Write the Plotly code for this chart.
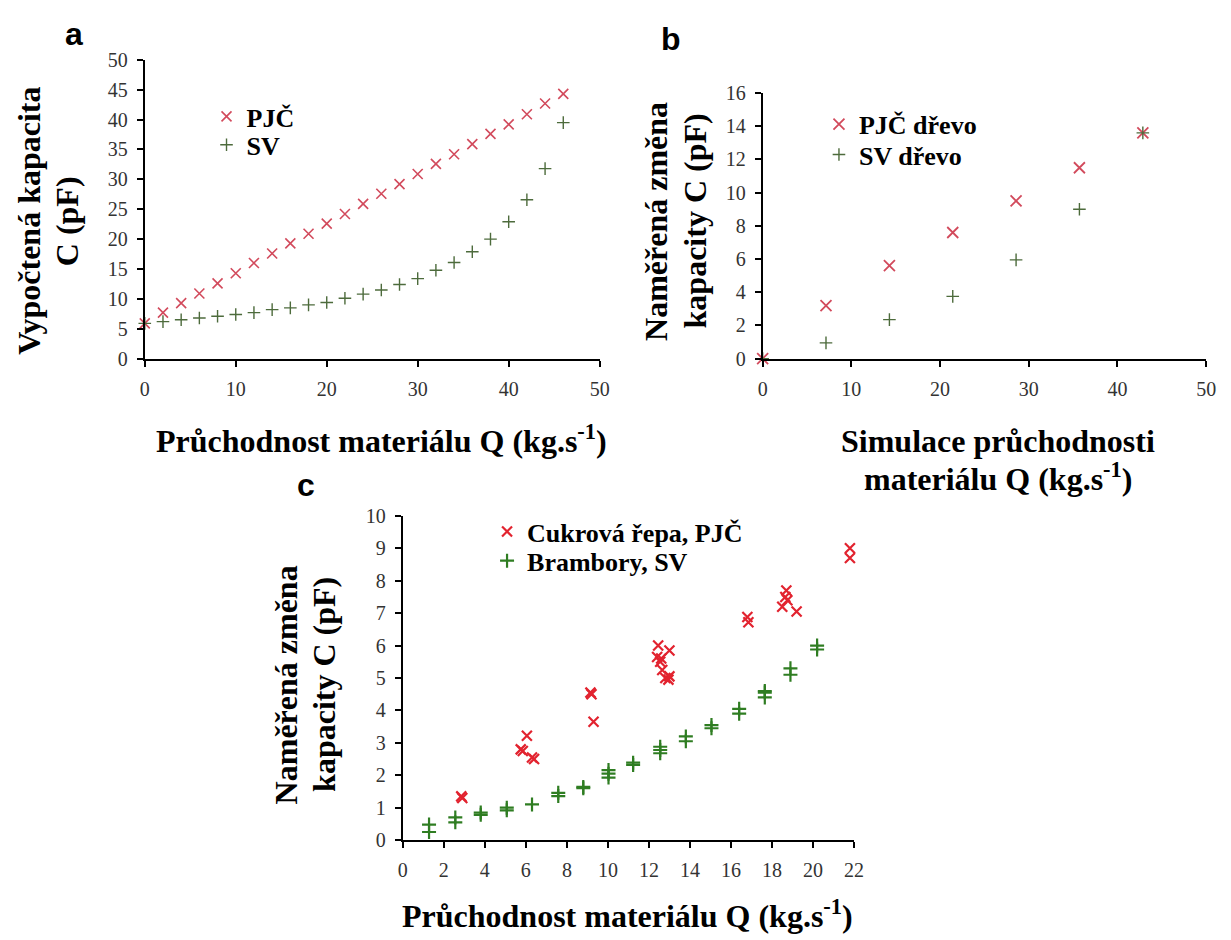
import plotly.graph_objects as go

# ---------------- data ----------------
# panel a
a_q = [0, 2, 4, 6, 8, 10, 12, 14, 16, 18, 20, 22, 24, 26, 28, 30, 32, 34, 36, 38, 40, 42, 44, 46]
a_pjc = [5.9, 7.7, 9.3, 10.9, 12.6, 14.3, 16.0, 17.6, 19.3, 20.9, 22.6, 24.2, 25.9, 27.6,
         29.2, 30.9, 32.6, 34.2, 35.9, 37.6, 39.2, 40.9, 42.7, 44.3]
a_sv = [5.9, 6.2, 6.5, 6.8, 7.1, 7.4, 7.7, 8.2, 8.5, 9.0, 9.4, 10.1, 10.8, 11.5,
        12.4, 13.4, 14.8, 16.1, 17.9, 20.0, 22.9, 26.6, 31.8, 39.5]

# panel b
b_q = [0, 7.14, 14.29, 21.43, 28.57, 35.71, 42.86]
b_pjc = [0.0, 3.2, 5.6, 7.6, 9.5, 11.5, 13.6]
b_sv = [0.0, 0.95, 2.35, 3.75, 5.95, 9.0, 13.6]

# panel c
c_pjc_q = [2.85, 2.9, 5.75, 5.85, 6.05, 6.3, 6.4, 9.15, 9.2, 9.3,
           12.45, 12.4, 12.6, 12.55, 13.0, 12.65, 12.8, 12.95, 13.0,
           16.8, 16.85, 18.7, 18.65, 18.5, 18.75, 19.2, 21.8, 21.8]
c_pjc_c = [1.35, 1.3, 2.8, 2.75, 3.22, 2.55, 2.5, 4.55, 4.5, 3.65,
           6.0, 5.65, 5.6, 5.5, 5.85, 5.25, 5.0, 4.95, 5.05,
           6.88, 6.72, 7.7, 7.5, 7.2, 7.4, 7.05, 9.0, 8.7]
c_sv_q = [1.28, 1.28, 2.56, 2.56, 3.8, 3.8, 5.07, 5.07, 6.3, 7.58, 7.58, 8.8, 8.8,
          10.03, 10.03, 10.03, 11.23, 11.23, 12.55, 12.55, 12.55, 13.8, 13.8,
          15.05, 15.05, 16.4, 16.4, 17.65, 17.65, 17.65, 18.9, 18.9, 20.2, 20.2]
c_sv_c = [0.25, 0.48, 0.55, 0.7, 0.78, 0.85, 0.92, 1.0, 1.1, 1.36, 1.46, 1.6, 1.64,
          1.93, 2.05, 2.16, 2.32, 2.39, 2.88, 2.78, 2.68, 3.2, 3.05,
          3.55, 3.45, 4.05, 3.9, 4.6, 4.55, 4.4, 5.3, 5.1, 6.0, 5.88]

# ---------------- styling ----------------
W, H = 1231, 940
SERIF = "Liberation Serif"
SANS = "Liberation Sans"
RED_A = "#d24a5c"
GRN_A = "#4d6b3c"
RED_C = "#e2232f"
GRN_C = "#2f7d22"


def px_x(p):
    return p / W


def px_y(p):
    return 1 - p / H


fig = go.Figure()

def add(x, y, sym, color, size, lw, name, xa, ya, legend):
    fig.add_trace(go.Scatter(
        x=x, y=y, mode="markers", name=name, xaxis=xa, yaxis=ya, legend=legend,
        cliponaxis=False,
        marker=dict(symbol=sym, size=size, color=color, line=dict(color=color, width=lw)),
    ))

add(a_q, a_pjc, "x-thin-open", RED_A, 10, 1.6, "PJČ", "x", "y", "legend")
add(a_q, a_sv, "cross-thin-open", GRN_A, 9, 1.4, "SV", "x", "y", "legend2")
add(b_q, b_pjc, "x-thin-open", RED_A, 11, 1.8, "PJČ dřevo", "x2", "y2", "legend3")
add(b_q, b_sv, "cross-thin-open", GRN_A, 9, 1.4, "SV dřevo", "x2", "y2", "legend4")
add(c_pjc_q, c_pjc_c, "x-thin-open", RED_C, 10, 2.2, "Cukrová řepa, PJČ", "x3", "y3", "legend5")
add(c_sv_q, c_sv_c, "cross-thin-open", GRN_C, 10, 2.2, "Brambory, SV", "x3", "y3", "legend6")

axis_common = dict(
    showline=True, linecolor="black", linewidth=2, showgrid=False, zeroline=False,
    ticks="outside", ticklen=6, tickwidth=2, tickcolor="black",
    tickfont=dict(family=SERIF, size=20, color="#333333"),
    ticklabelstandoff=5,
    mirror=False,
)

fig.update_layout(
    width=W, height=H, margin=dict(l=0, r=0, t=0, b=0),
    paper_bgcolor="white", plot_bgcolor="white",
    font=dict(family=SERIF),
    xaxis=dict(domain=[px_x(141.5), px_x(602)], range=[0, 50], dtick=10, anchor="y", **axis_common),
    yaxis=dict(domain=[px_y(356), px_y(50)], range=[0, 50], dtick=5, anchor="x", **axis_common),
    xaxis2=dict(domain=[px_x(767), px_x(1216)], range=[0, 50], dtick=10, anchor="y2", **axis_common),
    yaxis2=dict(domain=[px_y(356), px_y(84)], range=[0, 16], dtick=2, anchor="x2", **axis_common),
    xaxis3=dict(domain=[px_x(402.7), px_x(859.5)], range=[0, 22], dtick=2, anchor="y3", **axis_common),
    yaxis3=dict(domain=[px_y(849), px_y(517)], range=[0, 10], dtick=1, anchor="x3", **axis_common),
    showlegend=True,
)

leg_common = dict(
    bgcolor="rgba(0,0,0,0)", borderwidth=0, xanchor="left", yanchor="middle",
    font=dict(family=SERIF, size=26, color="black", weight="bold"),
    tracegroupgap=0, itemsizing="trace",
)
fig.update_layout(
    legend=dict(x=px_x(204), y=px_y(108), **leg_common),
    legend2=dict(x=px_x(204), y=px_y(137), **leg_common),
    legend3=dict(x=px_x(824), y=px_y(116), **leg_common),
    legend4=dict(x=px_x(824), y=px_y(147), **leg_common),
    legend5=dict(x=px_x(488), y=px_y(533), **leg_common),
    legend6=dict(x=px_x(488), y=px_y(563), **leg_common),
)

TITLE_FONT = dict(family=SERIF, size=32, color="black", weight="bold")
LETTER_FONT = dict(family=SANS, size=32, color="black", weight="bold")
annotations = [
    # panel letters
    dict(text="a", x=px_x(70), y=px_y(24), font=LETTER_FONT),
    dict(text="b", x=px_x(674), y=px_y(29), font=LETTER_FONT),
    dict(text="c", x=px_x(305), y=px_y(485), font=LETTER_FONT),
    # x axis titles
    dict(text="Průchodnost materiálu Q (kg.s<sup>-1</sup>)", x=px_x(381), y=px_y(438), font=TITLE_FONT),
    dict(text="Simulace průchodnosti", x=px_x(1005), y=px_y(440), font=TITLE_FONT),
    dict(text="materiálu Q (kg.s<sup>-1</sup>)", x=px_x(1005), y=px_y(477), font=TITLE_FONT),
    dict(text="Průchodnost materiálu Q (kg.s<sup>-1</sup>)", x=px_x(630), y=px_y(925), font=TITLE_FONT),
    # y axis titles (rotated, one annotation per line)
    dict(text="Vypočtená kapacita", x=px_x(24), y=px_y(215), textangle=-90, font=TITLE_FONT),
    dict(text="C (pF)", x=px_x(63), y=px_y(215), textangle=-90, font=TITLE_FONT),
    dict(text="Naměřená změna", x=px_x(659), y=px_y(215), textangle=-90, font=TITLE_FONT),
    dict(text="kapacity C (pF)", x=px_x(698), y=px_y(215), textangle=-90, font=TITLE_FONT),
    dict(text="Naměřená změna", x=px_x(284), y=px_y(690), textangle=-90, font=TITLE_FONT),
    dict(text="kapacity C (pF)", x=px_x(323), y=px_y(690), textangle=-90, font=TITLE_FONT),
]
for a in annotations:
    a.update(xref="paper", yref="paper", showarrow=False, xanchor="center", yanchor="middle")
fig.update_layout(annotations=annotations)

fig.write_html("out.html")
